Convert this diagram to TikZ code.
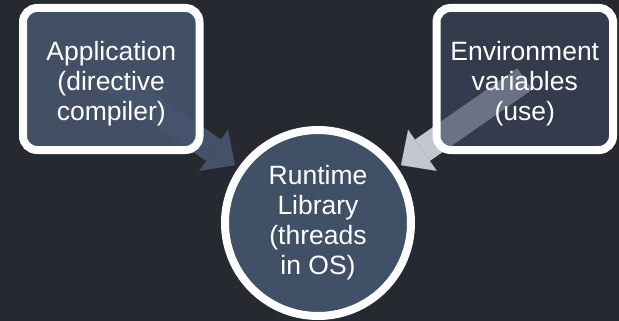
\documentclass[tikz,border=0pt]{standalone}
\usepackage{fontspec}
\setmainfont{Liberation Sans}
\usetikzlibrary{arrows.meta}
\definecolor{bgdark}{RGB}{39,41,48}
\definecolor{appfill}{RGB}{70,85,109}
\definecolor{envfill}{RGB}{58,70,94}
\definecolor{rtfill}{RGB}{64,80,102}
\definecolor{apparrow}{RGB}{67,82,104}
\definecolor{envarrow}{RGB}{196,199,206}
\begin{document}
\begin{tikzpicture}[x=1pt,y=-1pt,
  txt/.style={text=white, font=\fontsize{26.5}{30}\selectfont, align=center},
  srcbox/.style={draw=white, line width=8pt, rounded corners=14pt,
    minimum width=176.5pt, minimum height=142pt, inner sep=0pt},
  boxtext/.style={txt, inner sep=0pt, yshift=-4.5pt, text opacity=1, fill opacity=1},
  hub/.style={txt, circle, draw=white, line width=8pt, minimum size=186pt,
    inner sep=0pt, fill=rtfill},
  blockarrow/.style={line width=26pt,
    -{Triangle[length=26pt,width=50pt,line width=0.01pt]}, shorten >=4pt}]
  % canvas
  \fill[bgdark] (0,0) rectangle (619,321);
  \useasboundingbox (0,0) rectangle (619,321);
  % anchors for the arrows (nodes drawn afterwards on top)
  \coordinate (appc) at (111.25,79);
  \coordinate (envc) at (524.75,79);
  \coordinate (rtc) at (318,223);
  \path (rtc) node[circle, minimum size=194pt, inner sep=0pt] (rtb) {};
  % block arrows
  \draw[blockarrow, color=apparrow] (appc) -- (rtb);
  \draw[blockarrow, color=envarrow] (envc) -- (rtb);
  % source boxes
  \node[srcbox, fill=appfill, fill opacity=0.88,
    label={[boxtext]center:Application\\(directive\\compiler)}] (app) at (appc) {};
  \node[srcbox, fill=envfill, fill opacity=0.65,
    label={[boxtext]center:Environment\\variables\\(use)}] (env) at (envc) {};
  % runtime hub
  \node[hub] (rt) at (rtc) {Runtime\\Library\\(threads\\in OS)};
\end{tikzpicture}
\end{document}
